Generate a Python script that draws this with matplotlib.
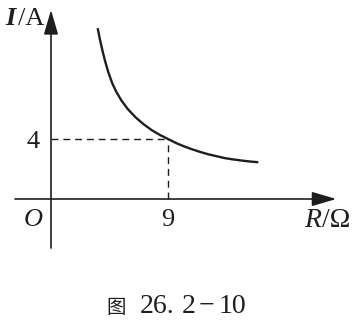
import matplotlib
matplotlib.use("Agg")
import matplotlib.pyplot as plt

# curve (R in ohm, I in A)
curve_R = [3.59, 3.75, 3.95, 4.15, 4.4, 4.7, 5.0, 5.4, 5.9, 6.5, 7.1, 7.75, 8.4, 9.0,
           9.6, 10.2, 10.8, 11.5, 12.1, 12.75, 13.4, 14.0, 14.7, 15.3, 15.95]
curve_I = [11.39, 10.69, 9.92, 9.23, 8.48, 7.74, 7.18, 6.59, 6.0, 5.45, 5.0, 4.59, 4.26, 4.0,
           3.74, 3.52, 3.33, 3.13, 2.98, 2.85, 2.72, 2.64, 2.56, 2.50, 2.45]
mark_R = 9
mark_I = 4

ink = "#1e1e1e"
serif = ["Liberation Serif", "Noto Sans CJK SC"]
fs = 19

fig = plt.figure(figsize=(3.54, 3.2), dpi=100)
ax = fig.add_axes([0, 0, 1, 1])
ax.set_xlim(-51 / 13, (354 - 51) / 13)
ax.set_ylim((199 - 320) / 15, 199 / 15)
ax.axis("off")

arrow = dict(arrowstyle="-|>,head_length=0.75,head_width=0.22", lw=1.2,
             color=ink, shrinkA=0, shrinkB=0, mutation_scale=20)
ax.annotate("", xy=(21.95, 0), xytext=(-2.77, 0), arrowprops=arrow)
ax.annotate("", xy=(0, 12.6), xytext=(0, -3.27), arrowprops=arrow)

ax.plot(curve_R, curve_I, color=ink, lw=1.7, solid_capstyle="butt")
ax.plot([0, mark_R], [mark_I, mark_I], color=ink, lw=1.0, dashes=(5, 3.5))
ax.plot([mark_R, mark_R], [0, mark_I], color=ink, lw=1.0, dashes=(5, 3.5))

ax.text(-1.38, -1.83, "O", fontsize=fs, style="italic", family=serif,
        ha="center", va="baseline", color=ink)
ax.text(mark_R, -1.83, str(mark_R), fontsize=fs, family=serif,
        ha="center", va="baseline", color=ink)
ax.text(-1.38, 3.43, str(mark_I), fontsize=fs, family=serif,
        ha="center", va="baseline", color=ink)
ax.text(-3.54, 11.6, "I", fontsize=fs, family=serif, style="italic",
        weight="bold", ha="left", va="baseline", color=ink)
ax.text(-2.5, 11.6, "/A", fontsize=fs, family=serif, ha="left", va="baseline", color=ink)
ax.text(19.5, -1.87, "R", fontsize=20, family=serif, style="italic",
        ha="left", va="baseline", color=ink)
ax.text(20.85, -1.87, "/\u03a9", fontsize=20, family=serif, ha="left", va="baseline", color=ink)

# caption "图 26. 2−10"
ax.text(5.04, -7.6, "图", fontsize=14, family=serif, ha="center", va="baseline", color=ink)
ax.text(6.85, -7.6, "26.", fontsize=20, family=serif, ha="left", va="baseline", color=ink)
ax.text(10.08, -7.6, "2", fontsize=20, family=serif, ha="left", va="baseline", color=ink)
ax.text(11.92, -7.6, "\u2212", fontsize=20, family=serif, ha="center", va="baseline", color=ink)
ax.text(12.92, -7.6, "10", fontsize=20, family=serif, ha="left", va="baseline", color=ink)

fig.savefig("out.png", dpi=100)
